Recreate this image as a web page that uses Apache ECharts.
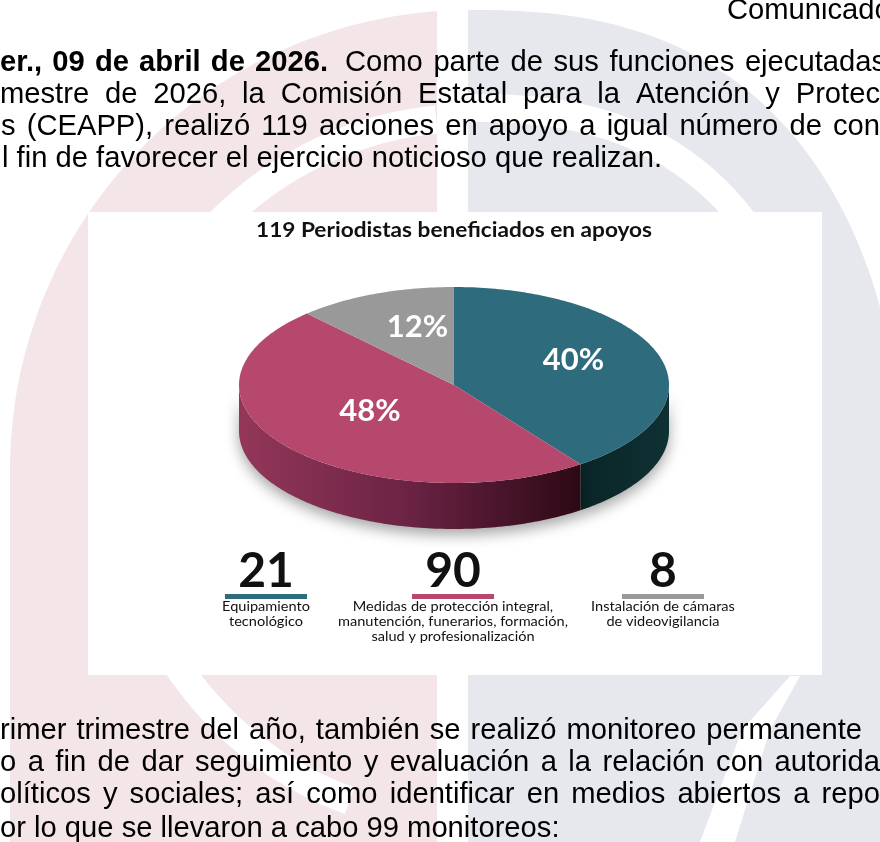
<!DOCTYPE html>
<html>
<head>
<meta charset="utf-8">
<script src="https://cdn.jsdelivr.net/npm/echarts@6/dist/echarts.min.js"></script>
<style>
  html, body { margin: 0; padding: 0; background: #fff; }
  #main { width: 880px; height: 842px; }
</style>
</head>
<body>
<div id="main"></div>
<script>
/* datos de la gráfica */
const titulo = '119 Periodistas beneficiados en apoyos';
const categorias = [
  'Equipamiento\ntecnológico',
  'Medidas de protección integral,\nmanutención, funerarios, formación,\nsalud y profesionalización',
  'Instalación de cámaras\nde videovigilancia'
];
const beneficiados = [21, 90, 8];
const porcentajes = [40, 48, 12];
const colores = ['#2e6b7d', '#b5486c', '#999999'];

/* texto del comunicado alrededor de la imagen */
const fechaNegrita = 'er., 09 de abril de 2026.';
const parrafoArriba = [
  'Como parte de sus funciones ejecutadas',
  'mestre de 2026, la Comisión Estatal para la Atención y Protec',
  's (CEAPP), realizó 119 acciones en apoyo a igual número de con',
  'l fin de favorecer el ejercicio noticioso que realizan.'
];
const parrafoAbajo = [
  'rimer trimestre del año, también se realizó monitoreo permanente',
  'o a fin de dar seguimiento y evaluación a la relación con autorida',
  'olíticos y sociales; así como identificar en medios abiertos a repo',
  'or lo que se llevaron a cabo 99 monitoreos:'
];

const FUENTE = '"Liberation Sans", Arial, sans-serif';
const FUENTE_INFO = 'Lato, sans-serif';
const TAM = 30;
const ctx = document.createElement('canvas').getContext('2d');

function medir(t, tam, peso, familia) {
  ctx.font = (peso || 'normal') + ' ' + tam + 'px ' + familia;
  return ctx.measureText(t).width;
}

// Arial Narrow no está instalada: se imita con Liberation Sans comprimida
const SX = 660 / medir(parrafoArriba[3], TAM, 'normal', FUENTE);

// coloca una linea palabra por palabra (justificada si se da x1)
function linea(texto, x0, x1, y, peso) {
  const pal = texto.split(' ');
  const anchos = pal.map(p => medir(p, TAM, peso, FUENTE) * SX);
  const suma = anchos.reduce((a, b) => a + b, 0);
  const hueco = (x1 == null || pal.length < 2) ? medir(' ', TAM, peso, FUENTE) * SX : (x1 - x0 - suma) / (pal.length - 1);
  let x = x0;
  return pal.map((p, i) => {
    const el = {
      type: 'text', x: x, y: y, z: 3, scaleX: SX,
      style: { text: p, fontSize: TAM, fontFamily: FUENTE, fontWeight: peso || 'normal', fill: '#000', verticalAlign: 'middle' }
    };
    x += anchos[i] + hueco;
    return el;
  });
}

// puntos de un arco (superelipse si exp != 2)
function arco(cx, cy, rx, ry, a0, a1, n, exp) {
  const pts = [];
  const e = 2 / (exp || 2);
  for (let k = 0; k <= n; k++) {
    const a = (a0 + (a1 - a0) * k / n) * Math.PI / 180;
    const c = Math.cos(a), s = Math.sin(a);
    pts.push([cx + rx * Math.sign(c) * Math.pow(Math.abs(c), e), cy - ry * Math.sign(s) * Math.pow(Math.abs(s), e)]);
  }
  return pts;
}

function anillo(cx, cy, rx, ry, k0, k1, a0, a1, exp) {
  const ext = arco(cx, cy, rx * k1, ry * k1, a0, a1, 80, exp);
  const int = arco(cx, cy, rx * k0, ry * k0, a1, a0, 80, exp);
  return ext.concat(int);
}

/* marca de agua de fondo */
const rosa = '#f3e5e8';
const gris = '#e6e8ee';
const fondo = [
  { type: 'polygon', z: 0, shape: { points: [[10, 842]].concat(arco(470, 470, 460, 460, 180, 94.1, 80), [[437, 842]]) }, style: { fill: rosa } },
  { type: 'polygon', z: 0, shape: { points: anillo(470, 470, 1, 1, 338, 366, 95.5, 250) }, style: { fill: '#fff' } },
  { type: 'polygon', z: 0, shape: { points: arco(468, 570, 440, 560, 90, 0, 80, 2.5).concat([[908, 842], [468, 842]]) }, style: { fill: gris } },
  { type: 'polygon', z: 0, shape: { points: anillo(468, 570, 440, 560, 0.8, 0.85, 90, 40, 2.5) }, style: { fill: '#fff' } },
  { type: 'polygon', z: 0, shape: { points: [[700, 842], [742, 730], [790, 676], [800, 676], [770, 730], [735, 842]] }, style: { fill: '#fff' } }
];

/* tarjeta blanca de la infografía */
const tarjeta = { type: 'rect', z: 1, shape: { x: 88, y: 212, width: 734, height: 463 }, style: { fill: '#fff' } };

/* texto del documento */
let texto = [];
texto = texto.concat(linea('Comunicado', 727, null, 11));
texto = texto.concat(linea(fechaNegrita, 0, 328, 63, 'bold'));
texto = texto.concat(linea(parrafoArriba[0], 345, 886, 63));
texto = texto.concat(linea(parrafoArriba[1], 0, 880, 95));
texto = texto.concat(linea(parrafoArriba[2], 1, 880, 127));
texto = texto.concat(linea(parrafoArriba[3], 2, null, 159));
texto = texto.concat(linea(parrafoAbajo[0], 0, 862, 731));
texto = texto.concat(linea(parrafoAbajo[1], 0, 880, 763));
texto = texto.concat(linea(parrafoAbajo[2], 0, 880, 795));
texto = texto.concat(linea(parrafoAbajo[3], 0, null, 829));

/* leyenda inferior: número, barra de color y descripción */
const leyendaX = [266, 453, 663];
const TAM_LEY = 13;
const anchoMax = Math.max.apply(null, categorias.join('\n').split('\n').map(t => medir(t, TAM_LEY, 'normal', FUENTE_INFO)));
const SX_LEY = 230 / anchoMax;
const leyenda = [];
beneficiados.forEach((v, i) => {
  leyenda.push({ type: 'text', z: 3, x: leyendaX[i], y: 572,
    style: { text: String(v), fontSize: 48, fontWeight: 'bold', fontFamily: FUENTE_INFO, fill: '#111', align: 'center', verticalAlign: 'middle' } });
  leyenda.push({ type: 'rect', z: 3, shape: { x: leyendaX[i] - 41, y: 594, width: 82, height: 5 }, style: { fill: colores[i] } });
  leyenda.push({ type: 'text', z: 3, x: leyendaX[i], y: 599, scaleX: SX_LEY,
    style: { text: categorias[i], fontSize: TAM_LEY, lineHeight: 15, fontFamily: FUENTE_INFO, fill: '#111', align: 'center', verticalAlign: 'top' } });
});

const SX_TIT = 396 / medir(titulo, 20, 'bold', FUENTE_INFO);
const tituloEl = { type: 'text', z: 3, x: 454, y: 231, scaleX: SX_TIT,
  style: { text: titulo, fontSize: 20, fontWeight: 'bold', fontFamily: FUENTE_INFO, fill: '#111', align: 'center', verticalAlign: 'middle' } };

/* pastel 3D */
const PIE = { cx: 454, cy: 385, rx: 215, ry: 98, alto: 46 };
const total = porcentajes.reduce((a, b) => a + b, 0);
const ladoColores = [
  ['#0a2527', '#0f3134'],
  ['#933759', '#6b2344', '#2c0915'],
  ['#6f6f6f', '#444444']
];

function punto(th, dy) {
  const a = th * Math.PI / 180;
  return [PIE.cx + PIE.rx * Math.cos(a), PIE.cy - PIE.ry * Math.sin(a) + (dy || 0)];
}

function renderItem(params, api) {
  const i = params.dataIndex;
  let antes = 0;
  for (let k = 0; k < i; k++) antes += porcentajes[k];
  const th0 = 90 - antes / total * 360;
  const th1 = 90 - (antes + api.value(0)) / total * 360;
  const hijos = [];

  // cara superior
  const n = Math.max(4, Math.round(th0 - th1));
  const sup = [[PIE.cx, PIE.cy]];
  for (let k = 0; k <= n; k++) sup.push(punto(th0 + (th1 - th0) * k / n));
  hijos.push({ type: 'polygon', z2: 2, shape: { points: sup }, style: { fill: colores[i] } });

  // pared frontal visible (mitad inferior de la elipse)
  const a = Math.min(th0, 0), b = Math.max(th1, -180);
  if (a > b) {
    const m = Math.max(4, Math.round(a - b));
    const lado = [];
    for (let k = 0; k <= m; k++) lado.push(punto(a + (b - a) * k / m));
    for (let k = m; k >= 0; k--) lado.push(punto(a + (b - a) * k / m, PIE.alto));
    const c = ladoColores[i];
    const stops = c.map((col, j) => ({ offset: j / (c.length - 1), color: col }));
    hijos.push({ type: 'polygon', z2: 1, shape: { points: lado },
      style: { fill: { type: 'linear', x: 0, y: 0, x2: 1, y2: 0, colorStops: stops },
        shadowBlur: 14, shadowColor: 'rgba(0,0,0,0.35)', shadowOffsetY: 6 } });
  }

  // etiqueta de porcentaje
  const mid = (th0 + th1) / 2;
  const p = punto(mid);
  const lx = PIE.cx + (p[0] - PIE.cx) * 0.55 + 7;
  const ly = PIE.cy + (p[1] - PIE.cy) * 0.55 - 8;
  hijos.push({ type: 'text', z2: 3, x: lx, y: ly,
    style: { text: api.value(0) + '%', fontSize: 31, fontWeight: 'bold', fontFamily: FUENTE_INFO, fill: '#fff', align: 'center', verticalAlign: 'middle' } });

  return { type: 'group', children: hijos };
}

const chart = echarts.init(document.getElementById('main'));
chart.setOption({
  animation: false,
  backgroundColor: '#ffffff',
  graphic: { elements: fondo.concat([tarjeta], texto, leyenda, [tituloEl]) },
  series: [{
    type: 'custom',
    coordinateSystem: 'none',
    z: 10,
    data: porcentajes.map((p, i) => [p, i]),
    renderItem: renderItem
  }]
});
</script>
</body>
</html>
